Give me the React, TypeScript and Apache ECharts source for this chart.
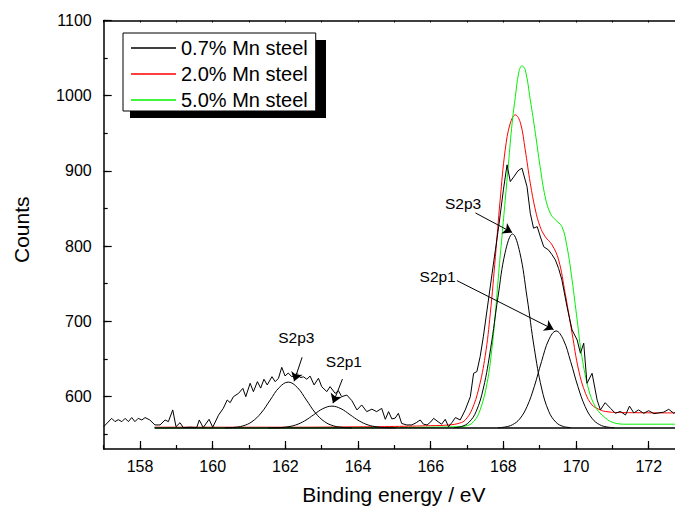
import React, { useEffect, useRef } from "react";
import * as echarts from "echarts";

const FONT = 'Arial, "Liberation Sans", Helvetica, sans-serif';

const legendNames = ["0.7% Mn steel", "2.0% Mn steel", "5.0% Mn steel"];

// raw spectrum, 0.7% Mn steel [binding energy, counts]
const raw07: number[][] = [
  [157.0, 559.7], [157.22, 570.8], [157.31, 566.4], [157.4, 569], [157.5, 566.4], [157.59, 570.8],
  [157.68, 566.4], [157.77, 571.8], [157.86, 566.4], [157.95, 570.8], [158.05, 568.6], [158.14, 571.8],
  [158.27, 568.6], [158.41, 562], [158.55, 562], [158.69, 568.6], [158.78, 566.4], [158.9, 582],
  [158.99, 559.7], [159.1, 565], [159.19, 558.5], [159.38, 559], [159.56, 558.5], [159.63, 568.6],
  [159.74, 558.5], [159.9, 569.5], [160.0, 558.9], [160.16, 575], [160.29, 584], [160.4, 595.2],
  [160.48, 591.6], [160.57, 599.6], [160.71, 604], [160.83, 610.7], [160.91, 599.6], [161.03, 617.4],
  [161.12, 606.3], [161.23, 619.6], [161.32, 611], [161.41, 622.8], [161.5, 615.2], [161.63, 626.2],
  [161.72, 619.6], [161.81, 624], [161.9, 638.7], [161.99, 627.2], [162.08, 631], [162.18, 626],
  [162.32, 630.7], [162.41, 625], [162.5, 626], [162.59, 622.8], [162.68, 627], [162.79, 615.2],
  [162.91, 624.1], [163.0, 612.9], [163.14, 606.3], [163.23, 613], [163.37, 604], [163.46, 607.5],
  [163.55, 599.6], [163.69, 601.8], [163.83, 594.3], [163.97, 582], [164.1, 588.6], [164.24, 579.7],
  [164.38, 583], [164.51, 579.7], [164.65, 584], [164.75, 569.5], [164.84, 579.7], [164.93, 570],
  [165.02, 571], [165.11, 577.5], [165.2, 564], [165.34, 562], [165.48, 562], [165.6, 565],
  [165.71, 568.6], [165.8, 563], [165.9, 562], [166.0, 566], [166.08, 570.8], [166.21, 566],
  [166.3, 563], [166.4, 569.5], [166.49, 559.7], [166.58, 565], [166.68, 571.8], [166.81, 568.6],
  [166.95, 582], [167.09, 599.6], [167.18, 630.7], [167.27, 633], [167.36, 652.8], [167.45, 680],
  [167.55, 715], [167.69, 763.8], [167.78, 795], [167.87, 825.8], [168.0, 874.7], [168.1, 908],
  [168.19, 885.7], [168.3, 893], [168.4, 900], [168.51, 903.6], [168.65, 879], [168.74, 843.6],
  [168.83, 823.7], [168.93, 825.8], [169.02, 812], [169.11, 799], [169.24, 794.8], [169.33, 789],
  [169.43, 781.5], [169.52, 770], [169.61, 754.9], [169.75, 719.4], [169.89, 688.4], [170.03, 675],
  [170.12, 657.4], [170.21, 670.7], [170.3, 617.4], [170.44, 630.7], [170.58, 595], [170.67, 582],
  [170.8, 591.6], [170.95, 584], [171.08, 577.5], [171.22, 580], [171.36, 575.2], [171.47, 587],
  [171.59, 578], [171.72, 582], [171.86, 577.5], [172.0, 581], [172.14, 577], [172.27, 578],
  [172.41, 579], [172.55, 582.8], [172.69, 577.5], [172.75, 580],
];

// 2.0% Mn steel
const steel20: number[][] = [
  [158.4, 559], [160.0, 559], [162.0, 559], [164.0, 559.5], [165.0, 560], [166.0, 561],
  [166.5, 562], [166.8, 564.5], [166.95, 568.6], [167.13, 582], [167.32, 610], [167.5, 654],
  [167.64, 710.6], [167.78, 786], [167.91, 861], [168.05, 928], [168.19, 963.5], [168.33, 974.5],
  [168.47, 963.5], [168.6, 928], [168.74, 883.6], [168.88, 848], [169.01, 825.8], [169.15, 812.5],
  [169.34, 801.5], [169.52, 781.5], [169.7, 737], [169.89, 684], [170.07, 635], [170.26, 604],
  [170.44, 588.6], [170.62, 583], [170.8, 580], [171.2, 578.5], [172.75, 578],
];

// 5.0% Mn steel
const steel50: number[][] = [
  [158.4, 558], [162.0, 558], [165.0, 558.5], [166.0, 559], [166.6, 559.5], [166.95, 560.5],
  [167.18, 566.4], [167.36, 582], [167.55, 617.4], [167.69, 666], [167.78, 710.6], [167.87, 763.8],
  [167.96, 812.5], [168.05, 861], [168.14, 910], [168.24, 963.5], [168.33, 998.9], [168.42, 1030],
  [168.51, 1039.7], [168.6, 1034.4], [168.74, 994.5], [168.88, 950], [169.01, 905.7], [169.15, 865.4],
  [169.29, 843.6], [169.43, 834.8], [169.61, 825.8], [169.75, 799.2], [169.89, 754.9], [170.03, 701.7],
  [170.16, 652.8], [170.35, 608.5], [170.53, 586.3], [170.72, 575], [171.03, 565], [171.4, 563],
  [172.75, 563],
];

// fitted background and components
const fitBase: number[][] = [[158.4, 558], [172.75, 558]];

const fitS2p3a: number[][] = [
  [160.33, 558.1], [160.58, 558.7], [160.83, 560.7], [161.08, 566.3], [161.33, 577.8], [161.58, 595],
  [161.83, 611.8], [162.08, 619], [162.33, 611.8], [162.58, 595], [162.83, 577.8], [163.08, 566.3],
  [163.33, 560.7], [163.58, 558.7], [163.83, 558.1],
];
const fitS2p1a: number[][] = [
  [161.53, 558.1], [161.78, 558.3], [162.03, 559.3], [162.28, 561.9], [162.53, 567.4], [162.78, 575.6],
  [163.03, 583.6], [163.28, 587], [163.53, 583.6], [163.78, 575.6], [164.03, 567.4], [164.28, 561.9],
  [164.53, 559.3], [164.78, 558.3], [165.03, 558.1],
];
const fitS2p3b: number[][] = [
  [166.65, 558.5], [166.85, 560], [167.05, 565.4], [167.25, 579.9], [167.45, 611.1], [167.65, 664],
  [167.85, 731.9], [168.05, 791.7], [168.25, 816], [168.45, 791.7], [168.65, 731.9], [168.85, 664],
  [169.05, 611.1], [169.25, 579.9], [169.45, 565.4], [169.65, 560], [169.85, 558.5],
];
const fitS2p1b: number[][] = [
  [167.85, 558.3], [168.05, 559.3], [168.25, 562.3], [168.45, 570.1], [168.65, 586.4], [168.85, 613.1],
  [169.05, 646.4], [169.25, 675.4], [169.45, 687], [169.65, 675.4], [169.85, 646.4], [170.05, 613.1],
  [170.25, 586.4], [170.45, 570.1], [170.65, 562.3], [170.85, 559.3], [171.05, 558.3],
];

// annotations: label text, label position, arrow start, arrow tip
const annLabels = ["S2p3", "S2p1", "S2p3", "S2p1"];
const annTextPos: number[][] = [[162.3, 678], [163.61, 646], [166.89, 857], [166.19, 759]];
const annArrowFrom: number[][] = [[162.46, 652], [163.57, 623], [167.23, 844], [166.72, 754]];
const annArrowTo: number[][] = [[162.24, 620], [163.31, 591], [168.24, 818], [169.38, 689]];

export default function App() {
  const ref = useRef<HTMLDivElement>(null);
  useEffect(() => {
    if (!ref.current) return;
    const chart = echarts.init(ref.current, undefined, { renderer: "svg" });
    const black = "#000000";
    const fitSeries = (name: string, data: number[][]) => ({
      name,
      type: "line",
      data,
      showSymbol: false,
      symbol: "none",
      smooth: 0.4,
      lineStyle: { color: black, width: 1 },
      itemStyle: { color: black },
      z: 3,
    });
    const L = 103.7;
    const option: any = {
      animation: false,
      backgroundColor: "#ffffff",
      textStyle: { fontFamily: FONT, color: black },
      grid: [
        { left: L, right: -1, top: 20.5, bottom: 61, containLabel: false, outerBoundsMode: "none" },
        { left: L, right: -1, top: 20.5, bottom: 76, containLabel: false, outerBoundsMode: "none" },
      ],
      legend: {
        data: legendNames,
        orient: "vertical",
        left: 123,
        top: 33,
        padding: [5, 8, 1, 8],
        itemGap: 6,
        itemWidth: 45,
        itemHeight: 1.5,
        icon: "rect",
        backgroundColor: "#ffffff",
        borderColor: black,
        borderWidth: 1,
        borderRadius: 0,
        textStyle: { fontFamily: FONT, fontSize: 20, color: black, lineHeight: 20 },
        z: 10,
      },
      graphic: [
        {
          type: "rect",
          shape: { x: 130, y: 40, width: 196, height: 78 },
          style: { fill: black },
          z: 5,
        },
      ],
      xAxis: [
        {
          type: "value",
          gridIndex: 0,
          position: "bottom",
          min: 157,
          max: 172.75,
          splitNumber: 8,
          name: "Binding energy / eV",
          nameLocation: "middle",
          nameGap: 35,
          nameTextStyle: { fontFamily: FONT, fontSize: 21, color: black, padding: [0, 0, 0, 8] },
          axisLine: { show: true, lineStyle: { color: black, width: 1.5 } },
          axisTick: { show: true, inside: true, length: 8, lineStyle: { color: black, width: 1.2 } },
          axisLabel: {
            show: true,
            fontFamily: FONT,
            fontSize: 16,
            color: black,
            margin: 9,
            showMinLabel: false,
            showMaxLabel: false,
            formatter: (v: number) => String(v),
          },
          splitLine: { show: false },
        },
        {
          type: "value",
          gridIndex: 0,
          position: "bottom",
          min: 157,
          max: 172.75,
          interval: 1,
          axisLine: { show: false },
          axisTick: { show: true, inside: true, length: 4, lineStyle: { color: black, width: 1.2 } },
          axisLabel: { show: false },
          splitLine: { show: false },
        },
        {
          type: "value",
          gridIndex: 1,
          position: "top",
          min: 157,
          max: 172.75,
          interval: 1,
          axisLine: { show: true, lineStyle: { color: black, width: 1.5 } },
          axisTick: { show: true, inside: true, length: 2, lineStyle: { color: black, width: 1 } },
          axisLabel: { show: false },
          splitLine: { show: false },
        },
      ],
      yAxis: [
        {
          type: "value",
          gridIndex: 0,
          min: 530,
          max: 1100,
          splitNumber: 5,
          name: "Counts",
          nameLocation: "middle",
          nameGap: 72,
          nameTextStyle: { fontFamily: FONT, fontSize: 21, color: black, padding: [0, 0, 0, 10] },
          axisLine: { show: true, lineStyle: { color: black, width: 1.5 } },
          axisTick: { show: true, inside: true, length: 8, lineStyle: { color: black, width: 1.2 } },
          axisLabel: {
            show: true,
            fontFamily: FONT,
            fontSize: 16,
            color: black,
            margin: 12,
            showMinLabel: false,
            formatter: (v: number) => String(v),
          },
          splitLine: { show: false },
        },
        {
          type: "value",
          gridIndex: 1,
          min: 550,
          max: 1100,
          interval: 50,
          axisLine: { show: false },
          axisTick: { show: true, inside: true, length: 4, lineStyle: { color: black, width: 1.2 } },
          axisLabel: { show: false },
          splitLine: { show: false },
        },
      ],
      series: [
        {
          name: legendNames[1],
          type: "line",
          data: steel20,
          showSymbol: false,
          symbol: "none",
          smooth: 0.4,
          lineStyle: { color: "#ff0000", width: 1 },
          itemStyle: { color: "#ff0000" },
          z: 2,
        },
        {
          name: legendNames[2],
          type: "line",
          data: steel50,
          showSymbol: false,
          symbol: "none",
          smooth: 0.4,
          lineStyle: { color: "#00f000", width: 1 },
          itemStyle: { color: "#00f000" },
          z: 2,
        },
        {
          ...fitSeries("fit background", fitBase),
          lineStyle: { color: black, width: 1.5 },
          markLine: {
            silent: true,
            symbol: ["none", "arrow"],
            symbolSize: 9,
            label: { show: false },
            lineStyle: { color: black, width: 1, type: "solid" },
            data: annArrowFrom.map((p, i) => [{ coord: p }, { coord: annArrowTo[i] }]),
          },
          markPoint: {
            silent: true,
            symbol: "circle",
            symbolSize: 0,
            label: {
              show: true,
              position: "inside",
              fontFamily: FONT,
              fontSize: 15.5,
              color: black,
            },
            data: annTextPos.map((p, i) => ({
              coord: p,
              value: annLabels[i],
              label: { formatter: annLabels[i] },
            })),
          },
        },
        fitSeries("S2p3 fit A", fitS2p3a),
        fitSeries("S2p1 fit A", fitS2p1a),
        fitSeries("S2p3 fit B", fitS2p3b),
        fitSeries("S2p1 fit B", fitS2p1b),
        {
          name: legendNames[0],
          type: "line",
          data: raw07,
          showSymbol: false,
          symbol: "none",
          lineStyle: { color: black, width: 1 },
          itemStyle: { color: black },
          z: 4,
        },
      ],
    };
    chart.setOption(option);
    return () => chart.dispose();
  }, []);
  return (
    <div
      ref={ref}
      style={{ position: "fixed", left: 0, top: 0, width: 675, height: 510 }}
    />
  );
}
